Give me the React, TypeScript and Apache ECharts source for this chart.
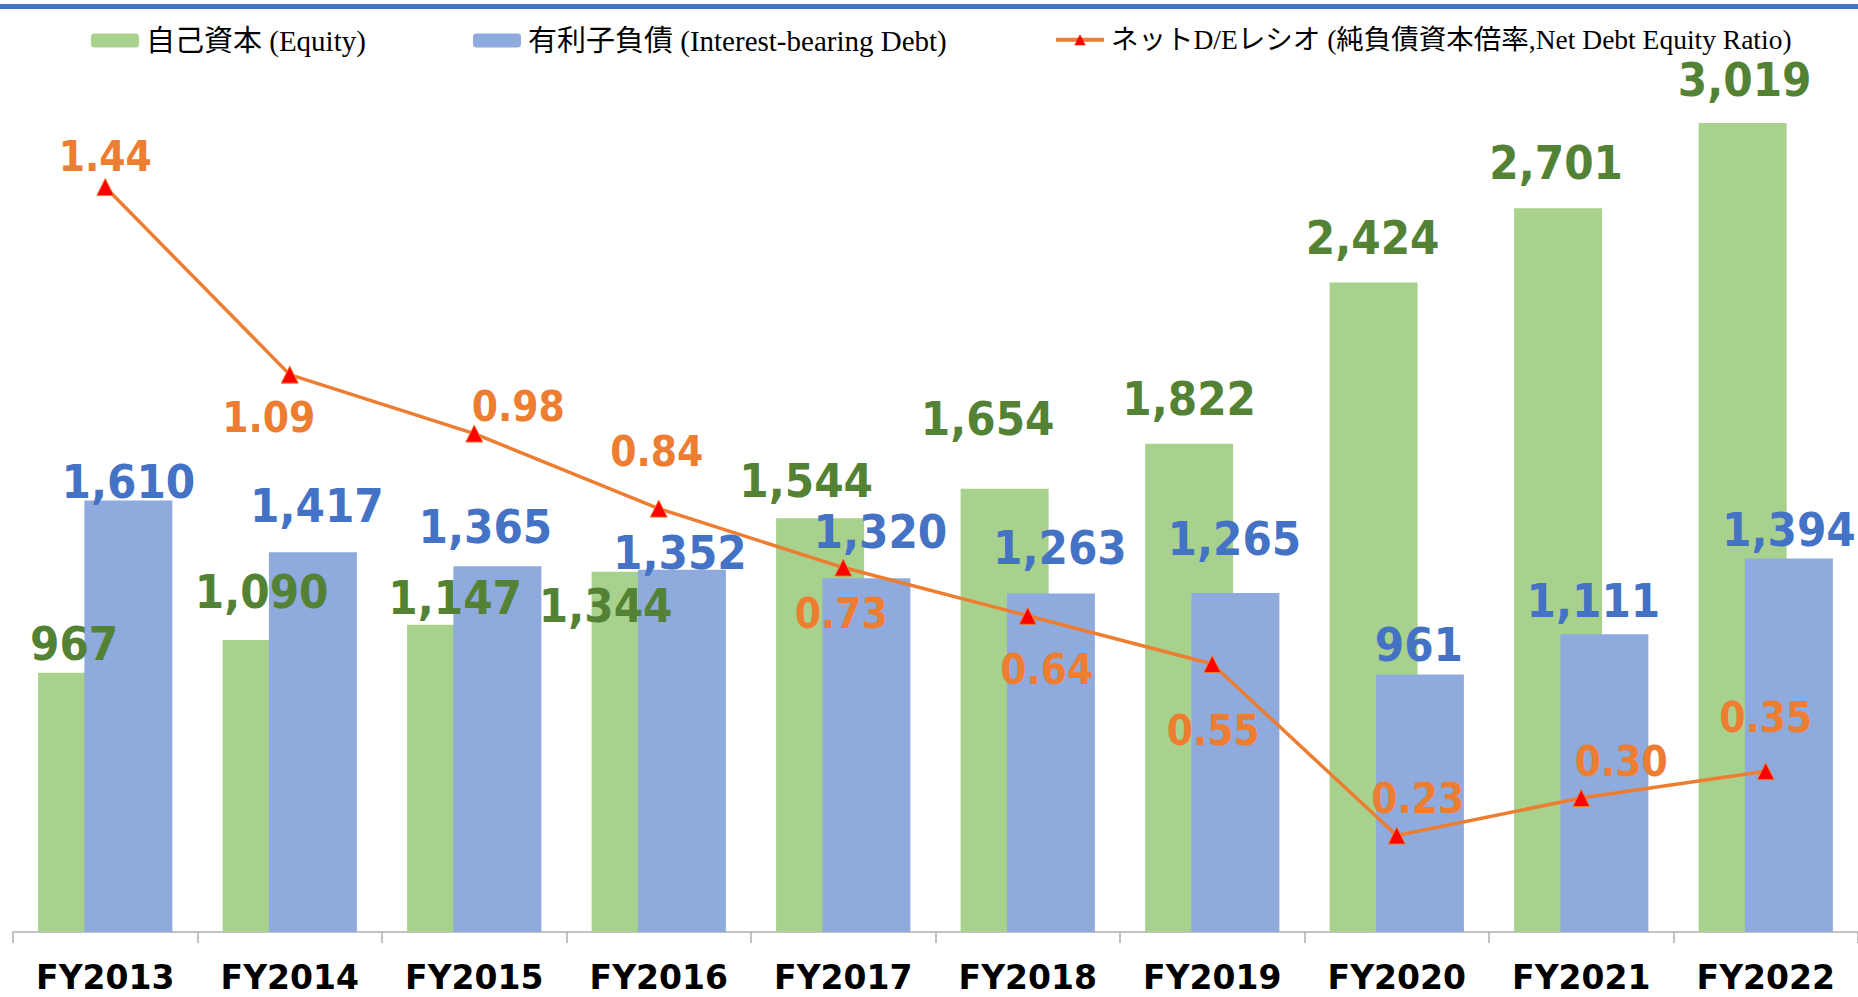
import React, { useEffect, useRef } from 'react';
import * as echarts from 'echarts';

const categories = ['FY2013', 'FY2014', 'FY2015', 'FY2016', 'FY2017', 'FY2018', 'FY2019', 'FY2020', 'FY2021', 'FY2022'];
const equity = [967, 1090, 1147, 1344, 1544, 1654, 1822, 2424, 2701, 3019];
const debt = [1610, 1417, 1365, 1352, 1320, 1263, 1265, 961, 1111, 1394];
const ratio = [1.44, 1.09, 0.98, 0.84, 0.73, 0.64, 0.55, 0.23, 0.3, 0.35];

const seriesNames = [
  '自己資本 (Equity)',
  '有利子負債 (Interest-bearing Debt)',
  'ネットD/Eレシオ (純負債資本倍率,Net Debt Equity Ratio)',
];

// label placement tweaks (pixels)
const equityLabelOffset: number[][] = [
  [-8, -5], [-5, -24], [4, -3], [-30, 58], [-14, -14], [-17, -46], [0, -21], [-1, -21], [-2, -22], [2, -20],
];
const debtLabelOffset: number[][] = [
  [0, 4], [4, -23], [-12, -16], [-2, 6], [14, -23], [9, -23], [-1, -31], [-1, -6], [-11, -10], [0, -5],
];
const ratioLabelOffset: number[][] = [
  [0, -31], [-21, 43], [44, -27], [-2, -57], [-2, 46], [19, 54], [1, 66], [21, -37], [40, -37], [0, -54],
];

const GREEN = '#A9D18E';
const BLUE = '#8FAADC';
const GREEN_TXT = '#548235';
const BLUE_TXT = '#4472C4';
const ORANGE = '#ED7D31';
const LABEL_FONT = "'DejaVu Sans Condensed', 'DejaVu Sans', sans-serif";
const LEGEND_FONT = "'Liberation Serif', 'Noto Sans CJK JP', serif";
const BAR_W = 88;
const BAR_GAP_PCT = -47.4;
const GREEN_SHIFT = -(BAR_W + (BAR_W * BAR_GAP_PCT) / 100) / 2;

const fmtInt = (p: any) => Number(p.value).toLocaleString('en-US');

export default function App() {
  const ref = useRef<HTMLDivElement>(null);
  useEffect(() => {
    document.body.style.margin = '0';
    const chart = echarts.init(ref.current!, null, { renderer: 'svg' });
    const legendCommon = {
      top: 21,
      itemWidth: 48,
      itemHeight: 14,
      itemGap: 0,
    };
    const legendText = (size: number) => ({
      fontFamily: LEGEND_FONT,
      fontSize: size,
      color: '#000',
      padding: [0, 0, 0, 2],
    });
    const barLabel = (color: string) => ({
      show: true,
      position: 'top',
      distance: 0,
      fontFamily: LABEL_FONT,
      fontWeight: 'bold',
      fontSize: 47,
      lineHeight: 47,
      color,
      opacity: 1,
      formatter: fmtInt,
    });
    const option: any = {
      animation: false,
      backgroundColor: '#fff',
      graphic: [
        { type: 'rect', left: 0, top: 4, shape: { x: 0, y: 0, width: 1858, height: 5 }, style: { fill: '#4472C4' } },
      ],
      legend: [
        { ...legendCommon, left: 86, data: [seriesNames[0]], textStyle: legendText(29) },
        { ...legendCommon, left: 468, data: [seriesNames[1]], textStyle: legendText(29) },
        {
          ...legendCommon,
          left: 1049,
          data: [seriesNames[2]],
          textStyle: legendText(27.5),
          lineStyle: { width: 4 },
          itemStyle: { borderWidth: 0 },
        },
      ],
      grid: { left: 13, top: 74.5, width: 1847, bottom: 65, containLabel: false },
      xAxis: {
        type: 'category',
        data: categories,
        axisLine: { lineStyle: { color: '#AEAEAE', width: 1.5 } },
        axisTick: { show: true, length: 11, lineStyle: { color: '#AEAEAE', width: 1.5 } },
        axisLabel: {
          interval: 0,
          margin: 32,
          fontFamily: "'DejaVu Sans', sans-serif",
          fontWeight: 'bold',
          fontSize: 33,
          lineHeight: 26,
          color: '#000',
        },
      },
      yAxis: [
        { type: 'value', min: 0, max: 3200, show: false, splitLine: { show: false } },
        { type: 'value', min: 0.05, max: 1.65, show: false, splitLine: { show: false } },
      ],
      series: [
        {
          name: seriesNames[0],
          type: 'bar',
          barWidth: BAR_W,
          barGap: BAR_GAP_PCT + '%',
          itemStyle: { color: GREEN },
          data: equity,
          z: 2,
        },
        {
          name: seriesNames[1],
          type: 'bar',
          barWidth: BAR_W,
          barGap: BAR_GAP_PCT + '%',
          itemStyle: { color: BLUE },
          label: barLabel(BLUE_TXT),
          data: debt.map((v, i) => ({ value: v, label: { offset: debtLabelOffset[i] } })),
          z: 3,
        },
        {
          name: 'equity-labels',
          type: 'scatter',
          symbolSize: 1,
          itemStyle: { color: 'rgba(0,0,0,0)', opacity: 1 },
          emphasis: { disabled: true },
          silent: true,
          label: barLabel(GREEN_TXT),
          data: equity.map((v, i) => ({
            value: v,
            label: { offset: [equityLabelOffset[i][0] + GREEN_SHIFT, equityLabelOffset[i][1]] },
          })),
          z: 4,
        },
        {
          name: seriesNames[2],
          type: 'line',
          yAxisIndex: 1,
          symbol: 'triangle',
          symbolSize: 17,
          lineStyle: { color: ORANGE, width: 3.5 },
          itemStyle: { color: '#FF0000', borderColor: ORANGE, borderWidth: 1 },
          label: {
            show: true,
            position: 'inside',
            align: 'center',
            verticalAlign: 'middle',
            fontFamily: LABEL_FONT,
            fontWeight: 'bold',
            fontSize: 42,
            lineHeight: 42,
            color: ORANGE,
            formatter: (p: any) => Number(p.value).toFixed(2),
          },
          data: ratio.map((v, i) => ({ value: v, label: { offset: ratioLabelOffset[i] } })),
          z: 5,
        },
      ],
    };
    chart.setOption(option);
    return () => chart.dispose();
  }, []);
  return <div ref={ref} style={{ width: 1858, height: 997 }} />;
}
